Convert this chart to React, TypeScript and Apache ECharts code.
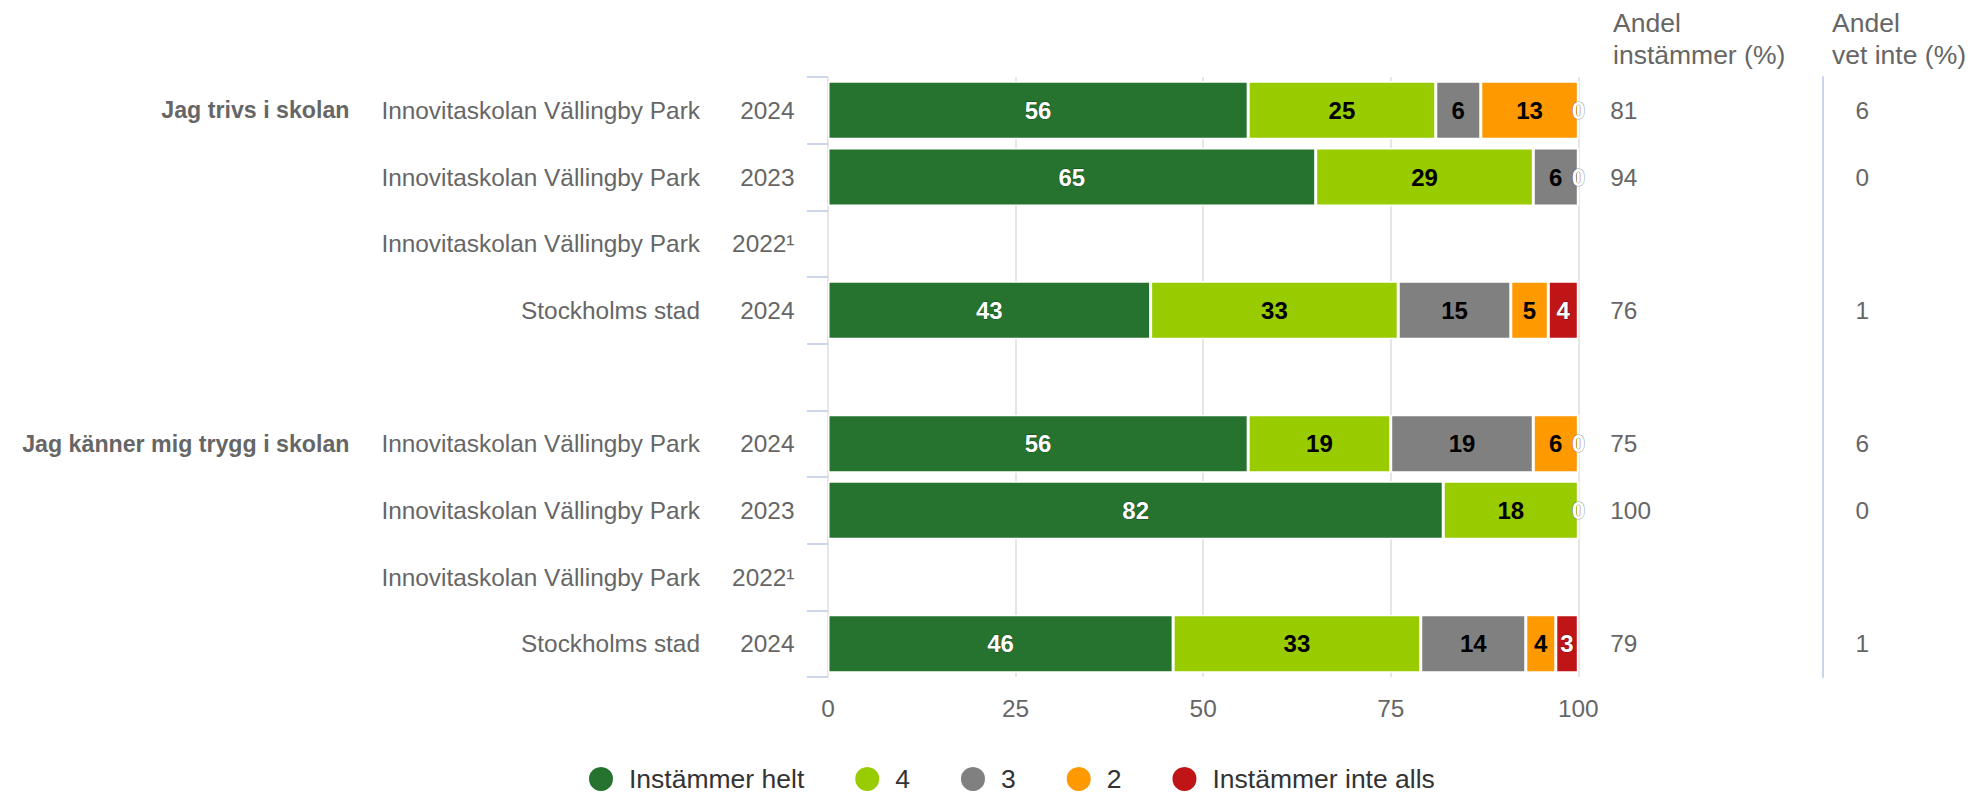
import React, { useEffect, useRef } from "react";
import * as echarts from "echarts";

// ---- Data ----
const groups = ["Jag trivs i skolan", "", "", "", "", "Jag känner mig trygg i skolan", "", "", ""];
const units = [
  "Innovitaskolan Vällingby Park",
  "Innovitaskolan Vällingby Park",
  "Innovitaskolan Vällingby Park",
  "Stockholms stad",
  "",
  "Innovitaskolan Vällingby Park",
  "Innovitaskolan Vällingby Park",
  "Innovitaskolan Vällingby Park",
  "Stockholms stad",
];
const years = ["2024", "2023", "2022¹", "2024", "", "2024", "2023", "2022¹", "2024"];

const seriesNames = ["Instämmer helt", "4", "3", "2", "Instämmer inte alls"];
const instammerHelt = [56, 65, null, 43, null, 56, 82, null, 46];
const fyra = [25, 29, null, 33, null, 19, 18, null, 33];
const tre = [6, 6, null, 15, null, 19, 0, null, 14];
const tva = [13, 0, null, 5, null, 6, 0, null, 4];
const instammerInteAlls = [0, 0, null, 4, null, 0, 0, null, 3];

const andelInstammer = [81, 94, null, 76, null, 75, 100, null, 79];
const andelVetInte = [6, 0, null, 1, null, 6, 0, null, 1];

const xTicks = [0, 25, 50, 75, 100];

const colors = ["#26732f", "#99cc00", "#808080", "#ff9900", "#bf1517"];
const labelColors = ["#ffffff", "#000000", "#000000", "#000000", "#ffffff"];

const FONT = "'Liberation Sans', Arial, Helvetica, sans-serif";

export default function App() {
  const ref = useRef<HTMLDivElement>(null);

  useEffect(() => {
    if (!ref.current) return;
    const chart = echarts.init(ref.current, undefined, { renderer: "svg" });
    const seriesData = [instammerHelt, fyra, tre, tva, instammerInteAlls];
    const toLabels = (arr: (number | null)[]) => arr.map((v) => (v === null ? "" : String(v)));

    const baseLabel = { color: "#666666", fontSize: 24.4, fontFamily: FONT };

    const option: any = {
      animation: false,
      textStyle: { fontFamily: FONT },
      title: [
        {
          text: "Andel\ninstämmer (%)",
          left: 1613,
          top: 6.5,
          padding: 0,
          textStyle: { color: "#666666", fontSize: 26.5, fontWeight: "normal", lineHeight: 32, fontFamily: FONT },
        },
        {
          text: "Andel\nvet inte (%)",
          left: 1832,
          top: 6.5,
          padding: 0,
          textStyle: { color: "#666666", fontSize: 26.5, fontWeight: "normal", lineHeight: 32, fontFamily: FONT },
        },
      ],
      legend: {
        data: seriesNames,
        left: 587,
        top: 765,
        padding: 0,
        icon: "circle",
        itemWidth: 46,
        itemHeight: 26,
        itemGap: 49,
        textStyle: { color: "#333333", fontSize: 26.5, fontFamily: FONT },
      },
      grid: { left: 828, right: 396.7, top: 77, bottom: 116, containLabel: false },
      xAxis: {
        type: "value",
        min: xTicks[0],
        max: xTicks[xTicks.length - 1],
        interval: xTicks[1] - xTicks[0],
        axisLine: { show: false },
        axisTick: { show: false },
        axisLabel: { ...baseLabel, margin: 19 },
        splitLine: { show: true, lineStyle: { color: "#e6e6e6", width: 2 } },
      },
      yAxis: [
        {
          type: "category",
          data: years,
          inverse: true,
          position: "left",
          axisLine: { show: false },
          axisTick: { show: true, length: 21, interval: 0, lineStyle: { color: "#ccd6eb", width: 2 } },
          axisLabel: { ...baseLabel, margin: 33.5, interval: 0 },
          splitLine: { show: false },
        },
        {
          type: "category",
          data: units,
          inverse: true,
          position: "left",
          axisLine: { show: false },
          axisTick: { show: false },
          axisLabel: { ...baseLabel, margin: 128, interval: 0 },
          splitLine: { show: false },
        },
        {
          type: "category",
          data: groups,
          inverse: true,
          position: "left",
          axisLine: { show: false },
          axisTick: { show: false },
          axisLabel: { ...baseLabel, fontSize: 23.2, fontWeight: "bold", margin: 478.5, interval: 0 },
          splitLine: { show: false },
        },
        {
          type: "category",
          data: toLabels(andelInstammer),
          inverse: true,
          position: "right",
          offset: 0,
          axisLine: { show: false },
          axisTick: { show: false },
          axisLabel: { ...baseLabel, margin: 32, interval: 0, align: "left" },
          splitLine: { show: false },
        },
        {
          type: "category",
          data: toLabels(andelVetInte),
          inverse: true,
          position: "right",
          offset: 244.3,
          axisLine: { show: true, lineStyle: { color: "#ccd6eb", width: 2 } },
          axisTick: { show: false },
          axisLabel: { ...baseLabel, margin: 33, interval: 0, align: "left" },
          splitLine: { show: false },
        },
      ],
      series: seriesNames.map((name, i) => ({
        name,
        type: "bar",
        stack: "total",
        yAxisIndex: 0,
        barWidth: 58,
        data: seriesData[i],
        itemStyle: { color: colors[i], borderColor: "#ffffff", borderWidth: 1.5 },
        label: {
          show: true,
          position: "inside",
          fontSize: 24,
          fontWeight: "bold",
          fontFamily: FONT,
          color: labelColors[i],
          textBorderColor: labelColors[i] === "#ffffff" ? "rgba(0,0,0,0.45)" : "transparent",
          textBorderWidth: labelColors[i] === "#ffffff" ? 1 : 0,
          formatter: (p: any) => {
            const v = p.value;
            if (v === null || v === undefined) return "";
            if (v === 0 && i !== seriesNames.length - 1) return "";
            return String(v);
          },
        },
        emphasis: { disabled: true },
      })),
    };

    chart.setOption(option);
    return () => chart.dispose();
  }, []);

  return (
    <div
      ref={ref}
      style={{ position: "absolute", left: 0, top: 0, width: 1975, height: 793, background: "#ffffff" }}
    />
  );
}
